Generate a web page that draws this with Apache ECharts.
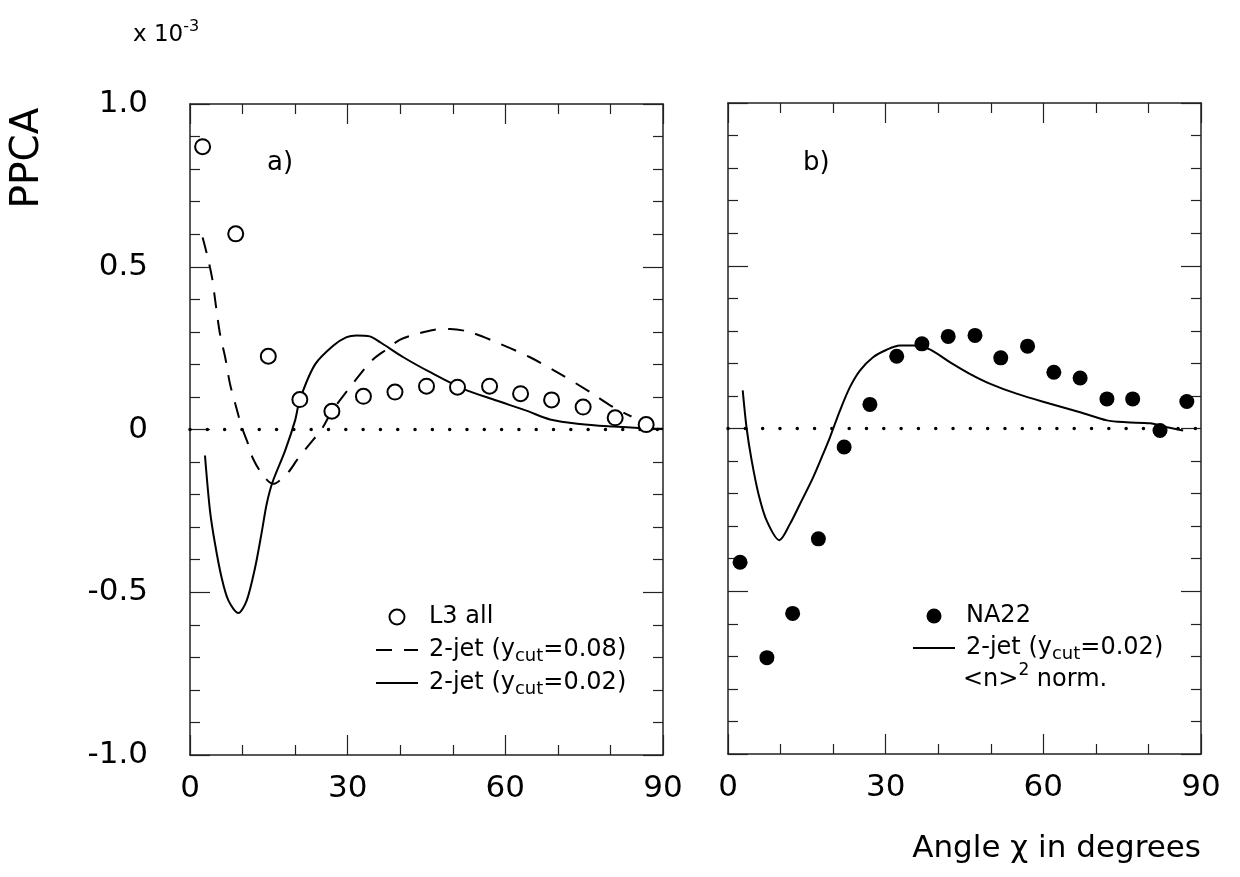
<!DOCTYPE html>
<html>
<head>
<meta charset="utf-8">
<script src="https://cdn.jsdelivr.net/npm/echarts@6/dist/echarts.min.js"></script>
<style>html,body{margin:0;padding:0;background:#fff}#c{width:1240px;height:877px}</style>
</head>
<body>
<div id="c"></div>
<script>
// ---- data ----
const xTicks = [0, 30, 60, 90];
const yTicks = [-1.0, -0.5, 0, 0.5, 1.0];

const l3X = [2.4, 8.7, 14.9, 20.9, 27.0, 33.0, 39.0, 45.0, 50.9, 57.0, 62.9, 68.8, 74.8, 80.9, 86.8];
const l3Y = [0.869, 0.601, 0.225, 0.092, 0.056, 0.102, 0.115, 0.133, 0.130, 0.133, 0.110, 0.091, 0.069, 0.036, 0.015];

const jet08X = [2.4, 3.2, 4.2, 4.8, 5.7, 6.7, 7.6, 8.6, 9.8, 11.0, 12.0, 13.9, 15.8, 18.7, 20.3, 22.8, 25.1, 27.0, 31.7, 34.6, 37.1, 40.0, 42.8, 46.3, 49.5, 53.3, 59.0, 64.7, 70.4, 76.1, 80.5, 84.0];
const jet08Y = [0.59, 0.54, 0.466, 0.396, 0.294, 0.221, 0.141, 0.08, 0.01, -0.042, -0.09, -0.141, -0.167, -0.131, -0.095, -0.044, 0.002, 0.056, 0.156, 0.212, 0.243, 0.276, 0.292, 0.306, 0.309, 0.299, 0.263, 0.222, 0.171, 0.115, 0.069, 0.04];

const jet02aX = [2.85, 3.8, 4.76, 6.0, 7.3, 9.2, 10.8, 12.4, 13.6, 14.6, 15.7, 18.1, 20.0, 20.9, 23.8, 27.3, 29.8, 31.7, 34.2, 36.2, 40.6, 45.7, 52.0, 58.3, 64.0, 68.5, 74.2, 80.5, 86.0, 90.0];
const jet02aY = [-0.08, -0.249, -0.351, -0.454, -0.525, -0.564, -0.525, -0.423, -0.32, -0.228, -0.162, -0.065, 0.028, 0.092, 0.2, 0.258, 0.284, 0.289, 0.286, 0.268, 0.222, 0.176, 0.125, 0.089, 0.058, 0.031, 0.017, 0.009, 0.004, 0.002];

const na22X = [2.3, 7.4, 12.3, 17.2, 22.1, 27.0, 32.1, 36.9, 41.9, 47.0, 51.9, 57.0, 62.0, 67.0, 72.1, 77.0, 82.2, 87.3];
const na22Y = [-0.411, -0.704, -0.568, -0.339, -0.057, 0.074, 0.222, 0.260, 0.283, 0.286, 0.217, 0.253, 0.173, 0.155, 0.091, 0.091, -0.006, 0.083];

const jet02bX = [2.8, 3.55, 4.5, 5.8, 7.36, 9.77, 11.8, 13.7, 16.2, 18.1, 19.4, 21.3, 23.2, 25.1, 27.6, 30.2, 32.7, 35.3, 38.4, 42.2, 46.0, 49.8, 54.9, 61.3, 67.0, 72.1, 75.8, 80.3, 83.5, 86.6];
const jet02bY = [0.117, 0.0, -0.098, -0.201, -0.283, -0.343, -0.293, -0.232, -0.15, -0.078, -0.027, 0.055, 0.127, 0.178, 0.219, 0.242, 0.255, 0.255, 0.243, 0.204, 0.168, 0.138, 0.107, 0.076, 0.050, 0.025, 0.019, 0.016, 0.004, -0.006];

const zeroX = [0, 90];
const zeroY = [0, 0];

// ---- build ----
const FONT = 'DejaVu Sans, Liberation Sans, Arial, sans-serif';
const pair = (xs, ys) => xs.map((x, i) => [x, ys[i]]);
const lineCol = '#222';

function xAx(gridIndex, position, showLabel) {
  return {
    type: 'value', gridIndex, position, min: xTicks[0], max: xTicks[xTicks.length - 1],
    interval: xTicks[1] - xTicks[0],
    axisLine: { show: true, onZero: false, lineStyle: { color: lineCol, width: 1.5 } },
    axisTick: { show: true, inside: true, length: 20, lineStyle: { color: lineCol, width: 1.2 } },
    minorTick: { show: true, splitNumber: 3, length: 10, lineStyle: { color: lineCol, width: 1.2 } },
    splitLine: { show: false }, minorSplitLine: { show: false },
    axisLabel: { show: showLabel, fontSize: 31, color: '#000', fontFamily: FONT, margin: 18 }
  };
}
function yAx(gridIndex, position, showLabel) {
  return {
    type: 'value', gridIndex, position, min: yTicks[0], max: yTicks[yTicks.length - 1],
    interval: yTicks[1] - yTicks[0],
    axisLine: { show: true, onZero: false, lineStyle: { color: lineCol, width: 1.5 } },
    axisTick: { show: true, inside: true, length: 20, lineStyle: { color: lineCol, width: 1.2 } },
    minorTick: { show: true, splitNumber: 5, length: 10, lineStyle: { color: lineCol, width: 1.2 } },
    splitLine: { show: false }, minorSplitLine: { show: false },
    axisLabel: {
      show: showLabel, fontSize: 31, color: '#000', fontFamily: FONT, margin: 42,
      formatter: v => (Math.abs(v) < 1e-9 ? '0' : v.toFixed(1))
    }
  };
}

const richBase = {
  g: { width: 6, lineHeight: 30 },
  t: { fontSize: 24, lineHeight: 30, color: '#000', fontFamily: FONT },
  s: { fontSize: 18, lineHeight: 8, verticalAlign: 'bottom', color: '#000', fontFamily: FONT }
};
const legendLabels = {
  'L3 all': '{g|}{t|L3 all}',
  '2-jet (ycut=0.08)': '{g|}{t|2-jet (y}{s|cut}{t|=0.08)}',
  '2-jet (ycut=0.02)': '{g|}{t|2-jet (y}{s|cut}{t|=0.02)}',
  'NA22': '{g|}{t|NA22}',
  '2-jet (ycut=0.02) norm': '{g|}{t|2-jet (y}{s|cut}{t|=0.02)}'
};
const hideSym = { opacity: 0 };

const option = {
  animation: false,
  backgroundColor: '#fff',
  grid: [
    { left: 190, top: 104, width: 473, height: 651 },
    { left: 728, top: 103, width: 473, height: 651 }
  ],
  xAxis: [xAx(0, 'bottom', true), xAx(0, 'top', false), xAx(1, 'bottom', true), xAx(1, 'top', false)],
  yAxis: [yAx(0, 'left', true), yAx(0, 'right', false), yAx(1, 'left', false), yAx(1, 'right', false)],
  legend: [
    {
      orient: 'vertical', left: 375, top: 602, padding: 0, itemGap: 3,
      itemWidth: 42, itemHeight: 15, selectedMode: false,
      data: ['L3 all', { name: '2-jet (ycut=0.08)', itemStyle: hideSym }, { name: '2-jet (ycut=0.02)', itemStyle: hideSym }],
      formatter: n => legendLabels[n], textStyle: { lineHeight: 30, rich: richBase }
    },
    {
      orient: 'vertical', left: 912, top: 601, padding: 0, itemGap: 2,
      itemWidth: 42, itemHeight: 15, selectedMode: false,
      data: ['NA22', { name: '2-jet (ycut=0.02) norm', itemStyle: hideSym }],
      formatter: n => legendLabels[n], textStyle: { lineHeight: 30, rich: richBase }
    }
  ],
  series: [
    { name: 'zeroA', type: 'line', xAxisIndex: 0, yAxisIndex: 0, data: pair(zeroX, zeroY), showSymbol: false, silent: true,
      lineStyle: { color: '#000', width: 3.5, type: [0.01, 17.3], cap: 'round' }, z: 1 },
    { name: 'zeroB', type: 'line', xAxisIndex: 2, yAxisIndex: 2, data: pair(zeroX, zeroY), showSymbol: false, silent: true,
      lineStyle: { color: '#000', width: 3.5, type: [0.01, 17.3], cap: 'round' }, z: 1 },
    { name: '2-jet (ycut=0.08)', type: 'line', xAxisIndex: 0, yAxisIndex: 0, data: pair(jet08X, jet08Y),
      smooth: 0.3, symbol: 'none', itemStyle: { color: '#000' }, lineStyle: { color: '#000', width: 2, type: [16, 12] } },
    { name: '2-jet (ycut=0.02)', type: 'line', xAxisIndex: 0, yAxisIndex: 0, data: pair(jet02aX, jet02aY),
      smooth: 0.3, symbol: 'none', itemStyle: { color: '#000' }, lineStyle: { color: '#000', width: 2 } },
    { name: 'L3 all', type: 'scatter', xAxisIndex: 0, yAxisIndex: 0, data: pair(l3X, l3Y),
      symbol: 'circle', symbolSize: 15, itemStyle: { color: '#fff', borderColor: '#000', borderWidth: 2, opacity: 1 }, z: 5 },
    { name: '2-jet (ycut=0.02) norm', type: 'line', xAxisIndex: 2, yAxisIndex: 2, data: pair(jet02bX, jet02bY),
      smooth: 0.3, symbol: 'none', itemStyle: { color: '#000' }, lineStyle: { color: '#000', width: 2 } },
    { name: 'NA22', type: 'scatter', xAxisIndex: 2, yAxisIndex: 2, data: pair(na22X, na22Y),
      symbol: 'circle', symbolSize: 15, itemStyle: { color: '#000', opacity: 1 }, z: 5 }
  ],
  graphic: [
    { type: 'text', left: 133, top: 19, style: {
        text: '{a|x 10}{b|-3}', rich: {
          a: { fontSize: 23, lineHeight: 32, fontFamily: FONT, fill: '#000' },
          b: { fontSize: 16, lineHeight: 12, verticalAlign: 'top', fontFamily: FONT, fill: '#000' } } } },
    { type: 'text', x: 28, y: 158, rotation: Math.PI / 2, style: {
        text: 'PPCA', fontSize: 39, fontFamily: FONT, fill: '#000', align: 'center', verticalAlign: 'middle' } },
    { type: 'text', x: 267, y: 163, style: { text: 'a)', fontSize: 26, fontFamily: FONT, fill: '#000', verticalAlign: 'middle' } },
    { type: 'text', x: 803, y: 163, style: { text: 'b)', fontSize: 26, fontFamily: FONT, fill: '#000', verticalAlign: 'middle' } },
    { type: 'text', x: 963, y: 662, style: {
        text: '{t|<n>}{p|2}{t| norm.}', rich: {
          t: { fontSize: 24, lineHeight: 36, fontFamily: FONT, fill: '#000' },
          p: { fontSize: 17, lineHeight: 2, verticalAlign: 'top', fontFamily: FONT, fill: '#000' } } } },
    { type: 'text', x: 1201, y: 864, style: {
        text: 'Angle χ in degrees', fontSize: 31, fontFamily: FONT, fill: '#000', align: 'right', verticalAlign: 'bottom' } }
  ]
};

const chart = echarts.init(document.getElementById('c'), null, { renderer: 'canvas' });
chart.setOption(option);
</script>
</body>
</html>
